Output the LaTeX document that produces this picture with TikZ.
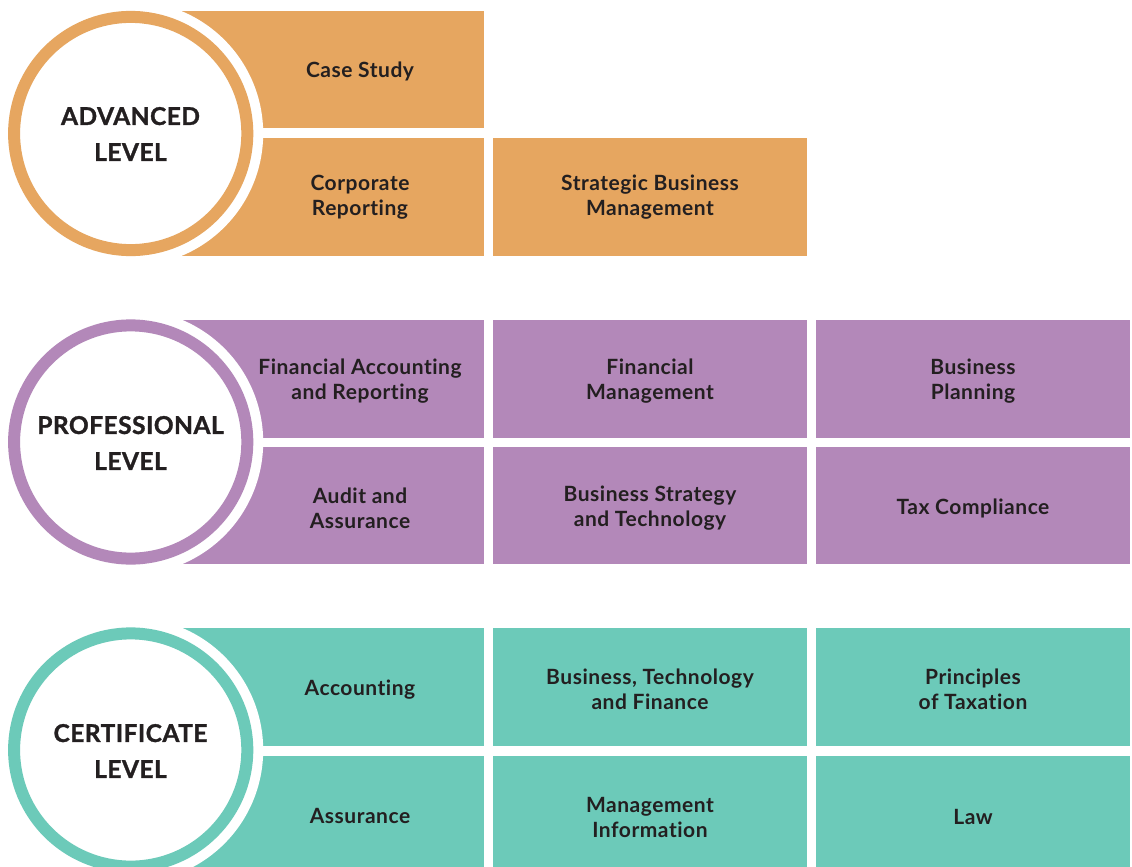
\documentclass[tikz,border=0pt]{standalone}
\usepackage{fontspec}
\setmainfont{Lato}
\newfontfamily\boxfont[LetterSpace=2.5,Ligatures=NoCommon]{Lato}
\newfontfamily\hdrfont[LetterSpace=2,Ligatures=NoCommon,BoldFeatures={FakeBold=1.2}]{Lato}
\definecolor{advc}{HTML}{E6A660}
\definecolor{proc}{HTML}{B388B9}
\definecolor{cerc}{HTML}{6CCAB9}
\definecolor{ink}{HTML}{231F20}
\tikzset{
  box/.style={fill=#1, draw=none, inner sep=0pt, anchor=north west},
  boxtxt/.style={text=ink, font=\boxfont\fontsize{21}{25}\selectfont\bfseries, align=center, inner sep=0pt, yshift=-1.5pt},
  hdrtxt/.style={text=ink, font=\hdrfont\fontsize{24.5}{36}\selectfont\bfseries, align=center, inner sep=0pt},
  ring/.style={draw=#1, line width=12pt, fill=white},
}
\begin{document}
\begin{tikzpicture}[x=1pt,y=-1pt]
\useasboundingbox (0,0) rectangle (1132,867);
% ---------- ADVANCED ----------
\node[box=advc, minimum width=354pt, minimum height=117pt] (a11) at (130,11) {};
\node[box=advc, minimum width=354pt, minimum height=118pt] (a21) at (130,138) {};
\node[box=advc, minimum width=314pt, minimum height=118pt] (a22) at (493,138) {};
\fill[white] (130.7,133.5) circle (132.5);
\draw[ring=advc] (130.7,133.5) circle (116.6);
\node[hdrtxt] (ah) at (130.5,134) {ADVANCED\\LEVEL};
\node[boxtxt] (a11t) at (360,69.5) {Case Study};
\node[boxtxt] (a21t) at (360,196) {Corporate\\Reporting};
\node[boxtxt] (a22t) at (650,196) {Strategic Business\\Management};
% ---------- PROFESSIONAL ----------
\node[box=proc, minimum width=354pt, minimum height=118pt] (p11) at (130,320) {};
\node[box=proc, minimum width=314pt, minimum height=118pt] (p12) at (493,320) {};
\node[box=proc, minimum width=314pt, minimum height=118pt] (p13) at (816,320) {};
\node[box=proc, minimum width=354pt, minimum height=117pt] (p21) at (130,447) {};
\node[box=proc, minimum width=314pt, minimum height=117pt] (p22) at (493,447) {};
\node[box=proc, minimum width=314pt, minimum height=117pt] (p23) at (816,447) {};
\fill[white] (130.7,442) circle (132.5);
\draw[ring=proc] (130.7,442) circle (116.6);
\node[hdrtxt] (ph) at (130.5,443) {PROFESSIONAL\\LEVEL};
\node[boxtxt] (p11t) at (360,379.5) {Financial Accounting\\and Reporting};
\node[boxtxt] (p12t) at (650,379.5) {Financial\\Management};
\node[boxtxt] (p13t) at (973,379.5) {Business\\Planning};
\node[boxtxt] (p21t) at (360,506.5) {Audit and\\Assurance};
\node[boxtxt] (p22t) at (650,506.5) {Business Strategy\\and Technology};
\node[boxtxt] (p23t) at (973,506.5) {Tax Compliance};
% ---------- CERTIFICATE ----------
\node[box=cerc, minimum width=354pt, minimum height=118pt] (c11) at (130,628) {};
\node[box=cerc, minimum width=314pt, minimum height=118pt] (c12) at (493,628) {};
\node[box=cerc, minimum width=314pt, minimum height=118pt] (c13) at (816,628) {};
\node[box=cerc, minimum width=354pt, minimum height=116pt] (c21) at (130,756) {};
\node[box=cerc, minimum width=314pt, minimum height=116pt] (c22) at (493,756) {};
\node[box=cerc, minimum width=314pt, minimum height=116pt] (c23) at (816,756) {};
\fill[white] (130.7,750) circle (132.5);
\draw[ring=cerc] (130.7,750) circle (116.6);
\node[hdrtxt] (ch) at (130.5,751) {CERTIFICATE\\LEVEL};
\node[boxtxt] (c11t) at (360,688) {Accounting};
\node[boxtxt] (c12t) at (650,688) {Business, Technology\\and Finance};
\node[boxtxt] (c13t) at (973,688) {Principles\\of Taxation};
\node[boxtxt] (c21t) at (360,814) {Assurance};
\node[boxtxt] (c22t) at (650,815.5) {Management\\Information};
\node[boxtxt] (c23t) at (973,815.5) {Law};
\end{tikzpicture}
\end{document}
